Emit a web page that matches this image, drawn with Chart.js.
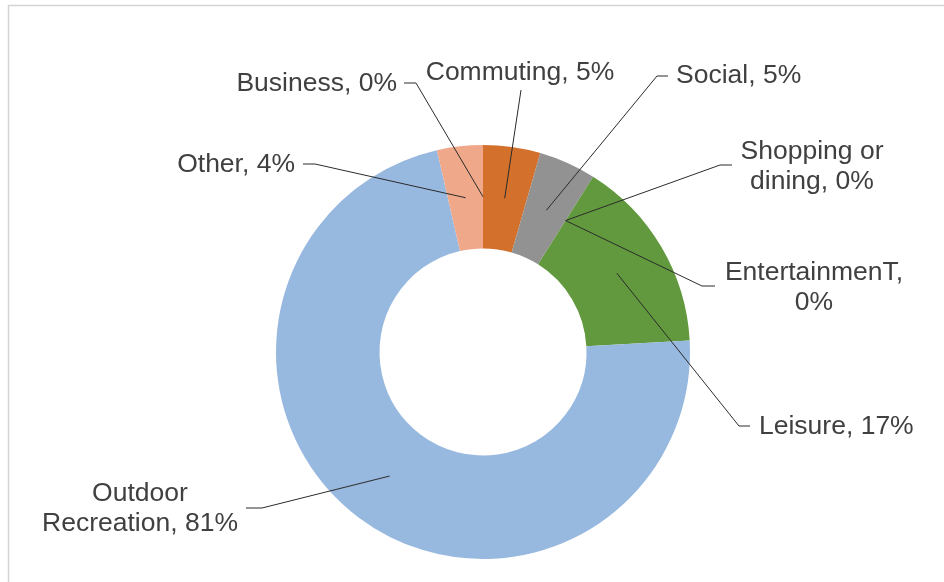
<!DOCTYPE html>
<html>
<head>
<meta charset="utf-8">
<script src="https://cdn.jsdelivr.net/npm/chart.js@4"></script>
<style>
  html, body { margin: 0; padding: 0; background: #fff; }
  #chart { display: block; }
</style>
</head>
<body>
<canvas id="chart" width="944" height="582"></canvas>
<script>
const categories = ["Business", "Commuting", "Social", "Shopping or dining", "EntertainmenT", "Leisure", "Outdoor Recreation", "Other"];
const values = [0, 5, 5, 0, 0, 17, 81, 4];
const colors = ["#d6d6d6", "#d3702c", "#929292", "#c0c0c0", "#b0b0b0", "#62993e", "#97b8df", "#efa88a"];

// label placement (x, y, text alignment, leader elbow and end, words on first line)
const labelLayout = [
  {x: 397, y: 84,  align: "right",  elbow: [416, 83],  end: [404, 83]},
  {x: 520, y: 73,  align: "center", elbow: null,       end: [521, 90]},
  {x: 676, y: 76,  align: "left",   elbow: [657, 76],  end: [668, 76]},
  {x: 812, y: 152, align: "center", elbow: [720, 165], end: [732, 165], brk: 2},
  {x: 814, y: 273, align: "center", elbow: [702, 286], end: [715, 286], brk: 1},
  {x: 759, y: 427, align: "left",   elbow: [739, 426], end: [750, 426]},
  {x: 140, y: 494, align: "center", elbow: [262, 508], end: [246, 508], brk: 1},
  {x: 295, y: 165, align: "right",  elbow: [315, 164], end: [303, 164]}
];

const framePlugin = {
  id: "frame",
  beforeDraw(chart) {
    const ctx = chart.ctx;
    ctx.save();
    ctx.strokeStyle = "#d4d4d4";
    ctx.lineWidth = 1.5;
    ctx.strokeRect(8.5, 5.5, 960, 620);
    ctx.restore();
  }
};

const labelPlugin = {
  id: "leaderLabels",
  afterDatasetsDraw(chart) {
    const ctx = chart.ctx;
    const arcs = chart.getDatasetMeta(0).data;
    ctx.save();
    arcs.forEach((arc, i) => {
      const p = arc.getProps(["x", "y", "startAngle", "endAngle", "innerRadius", "outerRadius"], true);
      const mid = (p.startAngle + p.endAngle) / 2;
      const r = (p.innerRadius + p.outerRadius) / 2;
      const ax = p.x + Math.cos(mid) * r;
      const ay = p.y + Math.sin(mid) * r;
      const L = labelLayout[i];

      ctx.strokeStyle = "#2b2b2b";
      ctx.lineWidth = 1;
      ctx.beginPath();
      ctx.moveTo(ax, ay);
      if (L.elbow) ctx.lineTo(L.elbow[0], L.elbow[1]);
      ctx.lineTo(L.end[0], L.end[1]);
      ctx.stroke();

      const text = `${categories[i]}, ${values[i]}%`;
      let lines = [text];
      if (L.brk) {
        const words = text.split(" ");
        lines = [words.slice(0, L.brk).join(" "), words.slice(L.brk).join(" ")];
      }
      ctx.fillStyle = "#404040";
      ctx.font = "26.5px 'Liberation Sans', Arial, sans-serif";
      ctx.textAlign = L.align;
      ctx.textBaseline = "middle";
      lines.forEach((ln, k) => ctx.fillText(ln, L.x, L.y + k * 30));
    });
    ctx.restore();
  }
};

new Chart(document.getElementById("chart"), {
  type: "doughnut",
  data: {
    labels: categories,
    datasets: [{
      data: values,
      backgroundColor: colors,
      borderWidth: 0
    }]
  },
  options: {
    responsive: false,
    animation: false,
    cutout: "50%",
    layout: {
      padding: {top: 145, bottom: 23, left: 276, right: 254}
    },
    plugins: {
      legend: {display: false},
      tooltip: {enabled: false}
    }
  },
  plugins: [framePlugin, labelPlugin]
});
</script>
</body>
</html>
